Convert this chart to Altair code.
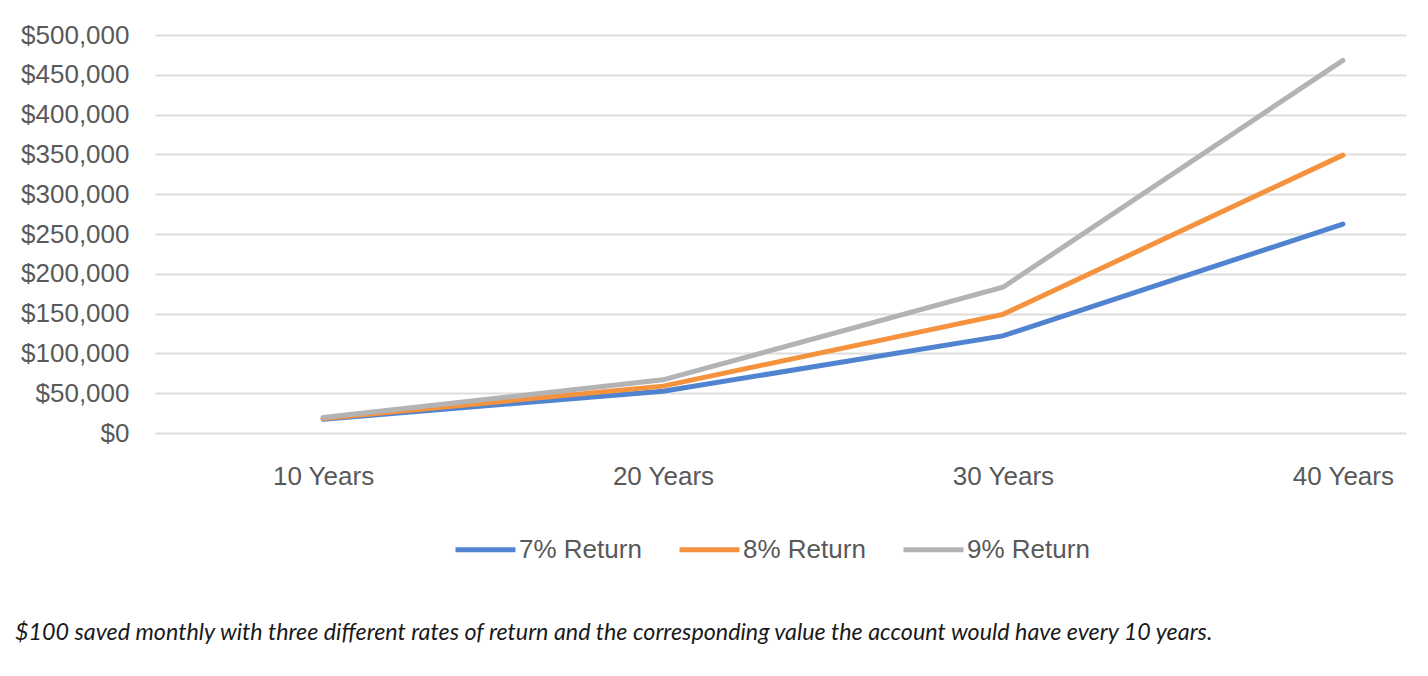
import altair as alt
import pandas as pd

periods = ["10 Years", "20 Years", "30 Years", "40 Years"]
series = ["7% Return", "8% Return", "9% Return"]
ret7 = [17409, 52397, 121997, 262481]
ret8 = [18295, 58902, 149036, 349101]
ret9 = [19351, 66789, 183074, 468132]
colors = ["#5083D0", "#F5923E", "#B3B3B3"]
caption = "$100 saved monthly with three different rates of return and the corresponding value the account would have every 10 years."

rows = []
for name, vals in zip(series, [ret7, ret8, ret9]):
    for p, v in zip(periods, vals):
        rows.append({"period": p, "series": name, "value": v})
df = pd.DataFrame(rows)

W, H = 1251, 398
FONT = "Liberation Sans"

chart = alt.Chart(df).mark_line(strokeWidth=5, strokeCap="round", strokeJoin="miter").encode(
    x=alt.X("period:O", sort=periods,
            scale=alt.Scale(type="point", padding=0.34, align=0.727),
            axis=alt.Axis(title=None, grid=False, domain=False, ticks=False, labelAngle=0,
                          labelFont=FONT, labelFontSize=26, labelColor="#595959",
                          labelPadding=30)),
    y=alt.Y("value:Q", scale=alt.Scale(domain=[0, 500000], nice=False),
            axis=alt.Axis(title=None, values=list(range(0, 500001, 50000)), format="$,.0f",
                          domain=False, ticks=False, gridColor="#DEDEDE", gridWidth=2,
                          labelFont=FONT, labelFontSize=26, labelColor="#595959",
                          labelPadding=26)),
    color=alt.Color("series:N", sort=series,
                    scale=alt.Scale(domain=series, range=colors),
                    legend=alt.Legend(title=None, orient="none", direction="horizontal",
                                      legendX=298, legendY=482, padding=0,
                                      symbolType="stroke", symbolSize=3600, symbolStrokeWidth=5,
                                      labelFont=FONT, labelFontSize=26,
                                      labelColor="#595959", labelOffset=1, columnPadding=27,
                                      labelLimit=300)),
).properties(
    width=W, height=H,
    padding={"left": 147, "top": 27, "right": 10, "bottom": 230},
    autosize=alt.AutoSizeParams(type="none"),
    title=alt.TitleParams(caption, orient="bottom", anchor="start", frame="group",
                          font="Lato", fontStyle="italic", fontWeight="normal",
                          fontSize=23.3, color="#1a1a1a", dx=-140, offset=59),
).configure_view(stroke=None)

chart.save("out.html", embed_options={"renderer": "svg", "actions": False})
